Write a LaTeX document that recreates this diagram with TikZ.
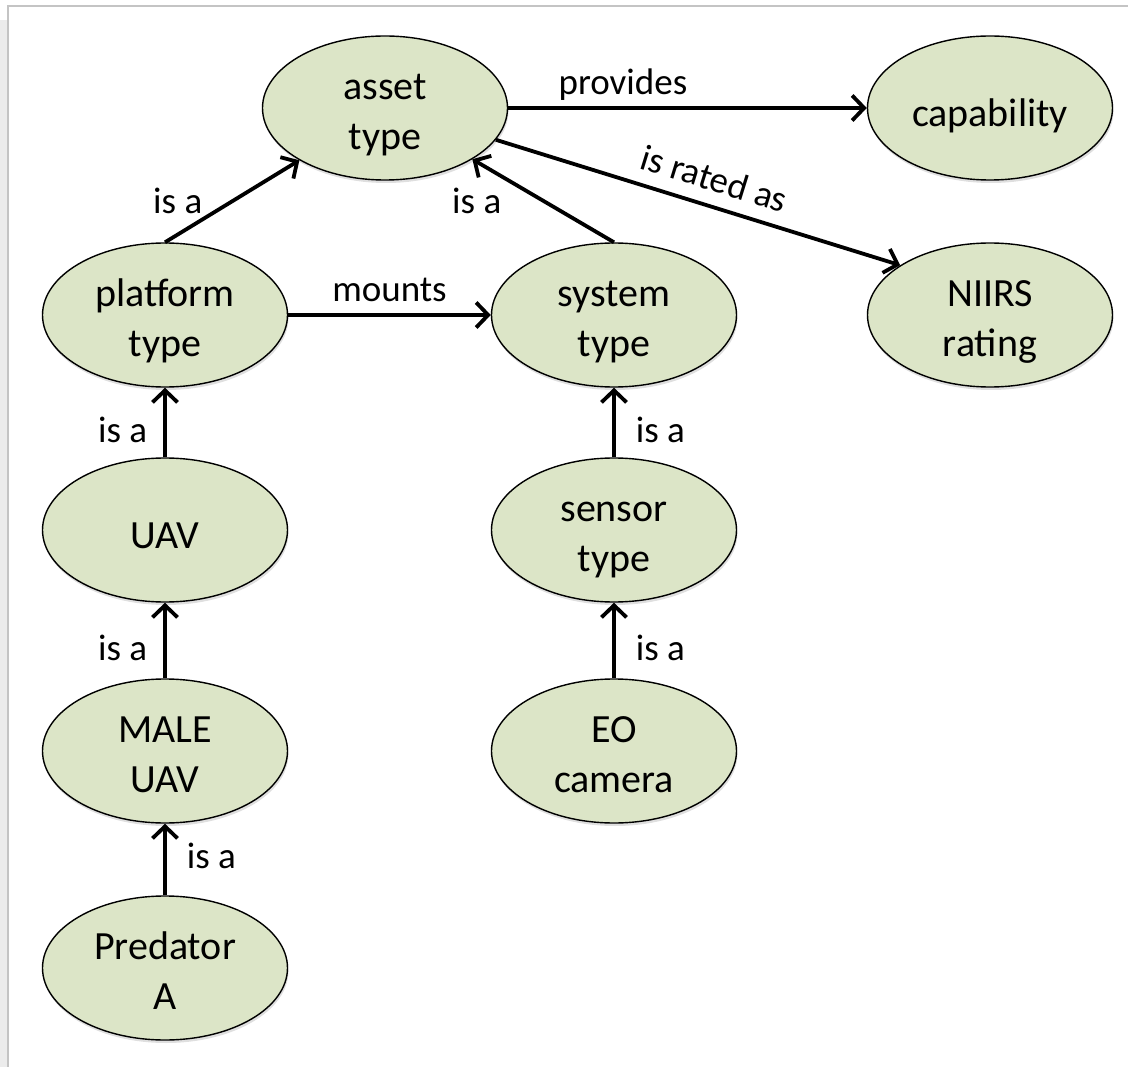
\documentclass[tikz,border=0pt]{standalone}
\usepackage{fontspec}
\setmainfont{Carlito}
\usetikzlibrary{arrows.meta, shapes.geometric, shadows}
\definecolor{conceptgreen}{HTML}{DCE5C7}
\definecolor{framegray}{HTML}{C4C4C4}
\definecolor{stripgray}{HTML}{ECECEC}
\tikzset{
  concept/.style={ellipse, draw, line width=1.4pt, fill=conceptgreen, minimum width=245pt, minimum height=144pt,
    inner sep=0pt, align=center, font=\fontsize{40}{50}\selectfont, text height=46pt, text depth=9pt,
    drop shadow={shadow xshift=1pt, shadow yshift=-3pt, opacity=0.25}},
  twoline/.style={concept, text height=92pt},
  rel/.style={line width=3.8pt, -{Straight Barb[length=12pt,width=25pt]}},
  rellabel/.style={font=\fontsize{37}{44}\selectfont, inner sep=2pt}
}

\begin{document}
\begin{tikzpicture}[x=1pt, y=-1pt]
  \useasboundingbox (0,0) rectangle (1128,1067);

  % frame
  \fill[stripgray] (0,20) rectangle (8,1067);
  \draw[framegray, line width=1.5pt] (8,1067) -- (8,6) -- (1128,6);

  % concepts
  \node[twoline] (asset) at (385,108) {asset\\type};
  \node[concept] (capab) at (990,108) {capability};
  \node[twoline] (platform) at (165,315) {platform\\type};
  \node[twoline] (system) at (614,315) {system\\type};
  \node[twoline] (niirs) at (990,315) {NIIRS\\rating};
  \node[concept] (uav) at (165,530) {UAV};
  \node[twoline] (sensor) at (614,530) {sensor\\type};
  \node[twoline] (maleuav) at (165,751) {MALE\\UAV};
  \node[twoline] (eocam) at (614,751) {EO\\camera};
  \node[twoline] (predator) at (165,968) {Predator\\A};

  % asset type
  \draw[rel] (asset) -- node[rellabel, pos=0.32, above=4pt] {provides} (capab);
  \draw[rel] (asset.-16) -- node[rellabel, pos=0.52, sloped, above=11pt] {is rated as} (niirs.151);
  \draw[rel] (platform.north) -- node[rellabel, midway, left=26pt] {is a} (asset);
  \draw[rel] (system.north) -- node[rellabel, midway, left=38pt] {is a} (asset);

  % platform system
  \draw[rel] (platform) -- node[rellabel, midway, above=9pt] {mounts} (system);

  % is a, left
  \draw[rel] (uav) -- node[rellabel, pos=0.4, left=14pt] {is a} (platform);
  \draw[rel] (maleuav) -- node[rellabel, pos=0.4, left=14pt] {is a} (uav);
  \draw[rel] (predator) -- node[rellabel, pos=0.55, right=18pt] {is a} (maleuav);

  % is a, right
  \draw[rel] (sensor) -- node[rellabel, pos=0.4, right=18pt] {is a} (system);
  \draw[rel] (eocam) -- node[rellabel, pos=0.4, right=18pt] {is a} (sensor);
\end{tikzpicture}
\end{document}
